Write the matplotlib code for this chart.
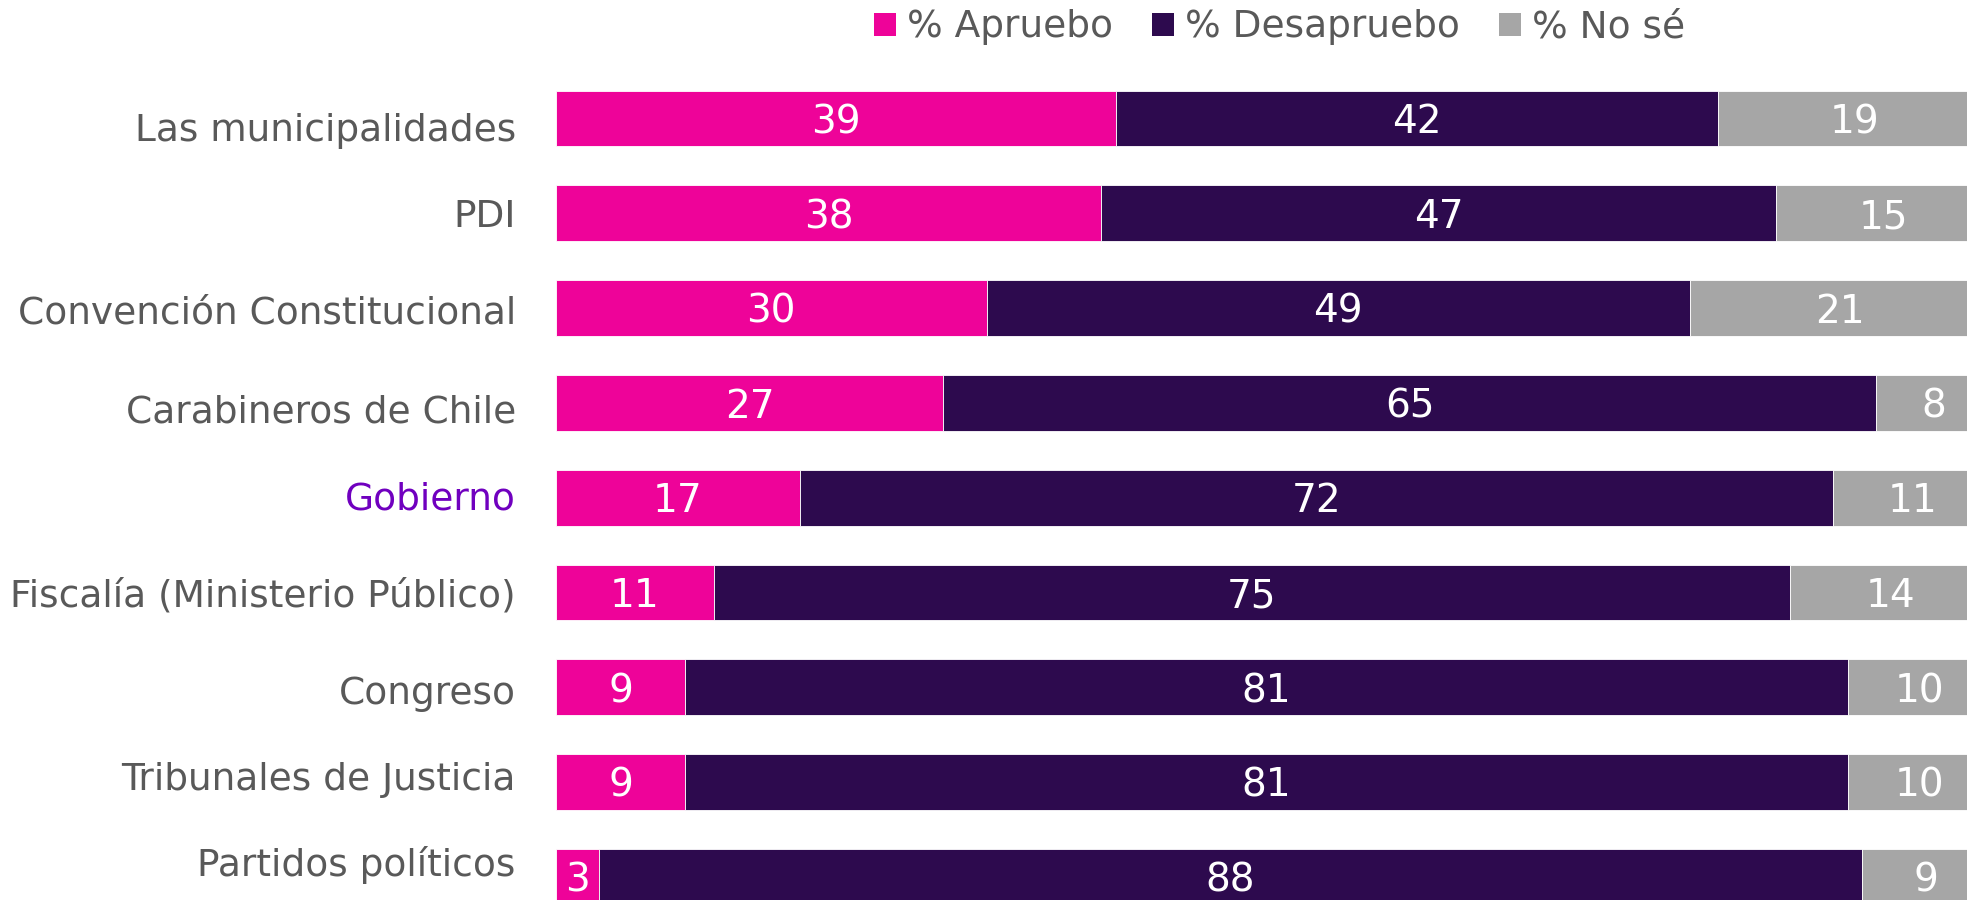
import numpy as np
import matplotlib.pyplot as plt
from matplotlib.patches import Patch

plt.rcParams['font.family'] = ['DejaVu Sans']

categorias = ['Las municipalidades', 'PDI', 'Convención Constitucional',
              'Carabineros de Chile', 'Gobierno', 'Fiscalía (Ministerio Público)',
              'Congreso', 'Tribunales de Justicia', 'Partidos políticos']
aprueba = [39, 38, 30, 27, 17, 11, 9, 9, 3]
desaprueba = [42, 47, 49, 65, 72, 75, 81, 81, 88]
no_se = [19, 15, 21, 8, 11, 14, 10, 10, 9]
series = ['% Apruebo', '% Desapruebo', '% No sé']

colores = ['#EE0399', '#2D0A4E', '#A6A6A6']
gris_texto = '#595959'
destacado = 'Gobierno'
color_destacado = '#7000BF'

# small vertical nudges of the category labels (they don't sit exactly on the bars)
desplaz = [0.13, 0.04, 0.06, 0.10, 0.02, 0.04, 0.07, -0.02, -0.12]

W, H = 1967, 900
fig = plt.figure(figsize=(W / 100, H / 100), dpi=100)
ax = fig.add_axes([556 / W, 0, 1 - 556 / W, 1])

y = np.arange(len(categorias))
izq = np.zeros(len(categorias))
for vals, col in zip([aprueba, desaprueba, no_se], colores):
    vals = np.array(vals, dtype=float)
    ax.barh(y, vals, left=izq, height=0.59, color=col,
            edgecolor='white', linewidth=0.6)
    for yi, l, v in zip(y, izq, vals):
        ax.text(l + v / 2, yi + 0.04, f'{int(v)}', ha='center', va='center',
                color='white', fontsize=28)
    izq += vals

# the picture is cut on the right and at the bottom
ax.set_xlim(0, 1411 / 14.35)
ax.set_ylim(8.244, -1.25)
ax.axis('off')

for i, cat in enumerate(categorias):
    ax.text(-2.8, i + desplaz[i], cat, ha='right', va='center',
            fontsize=27, color=color_destacado if cat == destacado else gris_texto)

handles = [Patch(facecolor=c, edgecolor='none') for c in colores]
leg = fig.legend(handles, series, loc='center', bbox_to_anchor=(0.6506, 0.9695),
                 ncol=3, frameon=False, fontsize=27, handlelength=0.58,
                 handleheight=0.58, handletextpad=0.3, columnspacing=1.05,
                 borderaxespad=0, borderpad=0)
for t in leg.get_texts():
    t.set_color(gris_texto)

fig.savefig('out.png', dpi=100)
